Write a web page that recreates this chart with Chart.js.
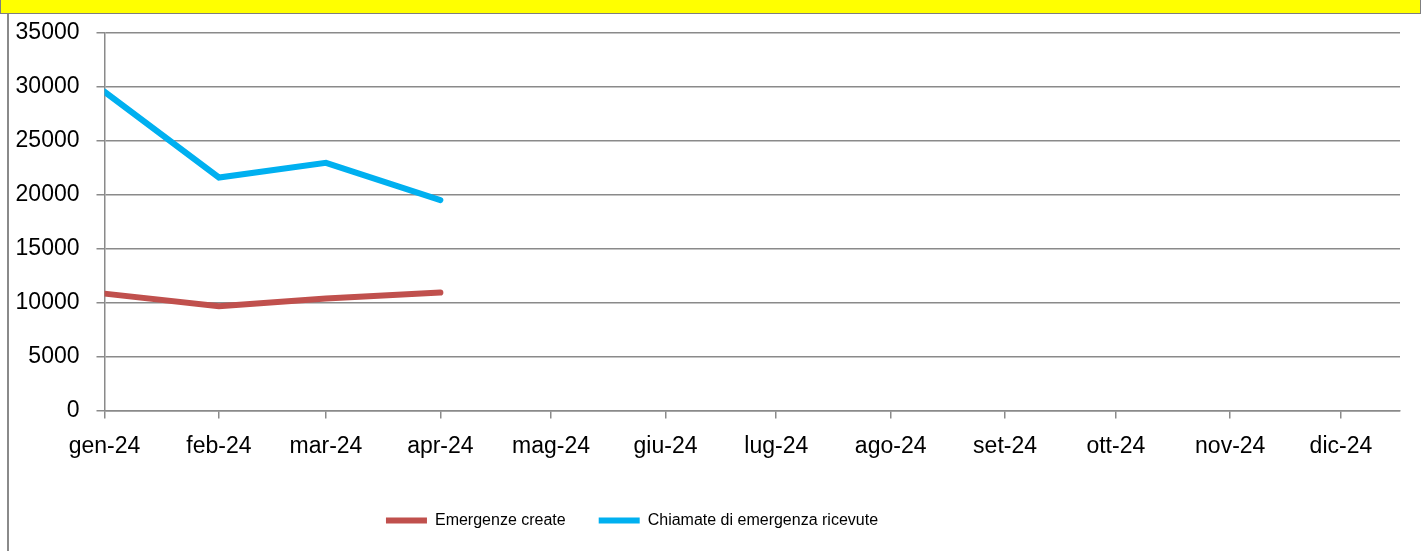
<!DOCTYPE html>
<html>
<head>
<meta charset="utf-8">
<script src="https://cdn.jsdelivr.net/npm/chart.js@4.4.0/dist/chart.umd.min.js"></script>
<style>
  html, body { margin: 0; padding: 0; background: #fff; }
  body { width: 1421px; height: 551px; position: relative; overflow: hidden; }
  #bar { position: absolute; left: 0; top: 0; width: 1419px; height: 13px; background: #ffff00; border: 1px solid #7f7f7f; border-top: none; }
  #frame { position: absolute; left: 7px; top: 14px; width: 2px; height: 540px; background: #8a8a8a; }
  #wrap { position: absolute; left: 0; top: 0; width: 1421px; height: 551px; }
</style>
</head>
<body>
<div id="wrap"><canvas id="grafico"></canvas></div>
<div id="bar"></div>
<div id="frame"></div>
<script>
const mesi = ['gen-24', 'feb-24', 'mar-24', 'apr-24', 'mag-24', 'giu-24', 'lug-24', 'ago-24', 'set-24', 'ott-24', 'nov-24', 'dic-24'];
const emergenzeCreate = [10830, 9650, 10370, 10930];
const chiamateRicevute = [29550, 21600, 22960, 19500];
const yTicks = [0, 5000, 10000, 15000, 20000, 25000, 30000, 35000];

// date axis: each month placed by its day offset from 1 Jan 2024
const giorni = mesi.map((m, i) => (new Date(2024, i, 1) - new Date(2024, 0, 1)) / 86400000);
const punti = (serie) => serie.map((v, i) => ({ x: giorni[i], y: v }));

const fontFam = "'Liberation Sans', Arial, sans-serif";

// legend sits left of centre and around y=519 in the original
const spostaLegenda = {
    id: 'spostaLegenda',
    afterLayout(chart) {
        const l = chart.legend;
        if (!l) return;
        const pad = l.options.labels.padding;
        const dy = 522 - (l.top + pad + 9.6);
        l.left -= 68;
        l.right -= 68;
        l.top += dy;
        l.bottom += dy;
    }
};

const ctx = document.getElementById('grafico').getContext('2d');
const myChart = new Chart(ctx, {
    type: 'line',
    data: {
        datasets: [{
            label: 'Emergenze create',
            data: punti(emergenzeCreate),
            borderColor: '#C0504D',
            backgroundColor: '#C0504D',
            borderWidth: 6,
            borderCapStyle: 'round',
            pointRadius: 0,
            tension: 0
        }, {
            label: 'Chiamate di emergenza ricevute',
            data: punti(chiamateRicevute),
            borderColor: '#00B0F0',
            backgroundColor: '#00B0F0',
            borderWidth: 6,
            borderCapStyle: 'round',
            pointRadius: 0,
            tension: 0
        }]
    },
    options: {
        responsive: true,
        maintainAspectRatio: false,
        animation: false,
        layout: { padding: { left: 0, right: 21, top: 33, bottom: 18 } },
        plugins: {
            tooltip: { enabled: false },
            legend: {
                position: 'bottom',
                labels: {
                    usePointStyle: true,
                    pointStyle: 'line',
                    pointStyleWidth: 41,
                    boxHeight: 5,
                    padding: 33,
                    color: '#000',
                    font: { family: fontFam, size: 16 }
                }
            }
        },
        scales: {
            x: {
                type: 'linear',
                min: 0,
                max: 351,
                afterBuildTicks: (s) => { s.ticks = giorni.map(v => ({ value: v })); },
                ticks: {
                    autoSkip: false,
                    maxRotation: 0,
                    padding: 14,
                    color: '#000',
                    font: { family: fontFam, size: 23 },
                    callback: (v, i) => mesi[i]
                },
                grid: { drawOnChartArea: false, drawTicks: true, tickLength: 8, color: '#8a8a8a', lineWidth: 1.5 },
                border: { color: '#8a8a8a', width: 1.5 }
            },
            y: {
                min: 0,
                max: 35000,
                afterBuildTicks: (s) => { s.ticks = yTicks.map(v => ({ value: v })); },
                afterFit: (s) => { s.width = 104.5; },
                ticks: {
                    padding: 17,
                    color: '#000',
                    font: { family: fontFam, size: 23 },
                    callback: (v) => String(v)
                },
                grid: { color: '#8a8a8a', lineWidth: 1.5, tickLength: 8 },
                border: { color: '#8a8a8a', width: 1.5 }
            }
        }
    },
    plugins: [spostaLegenda]
});
</script>
</body>
</html>
